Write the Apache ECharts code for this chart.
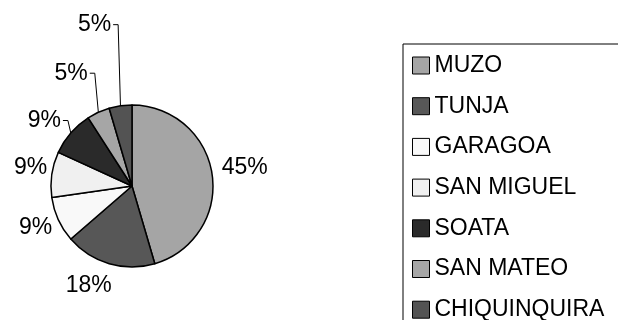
<!DOCTYPE html>
<html>
<head>
<meta charset="utf-8">
<script src="https://cdn.jsdelivr.net/npm/echarts@6/dist/echarts.min.js"></script>
<style>
html, body { margin: 0; padding: 0; background: #fff; }
#main { width: 618px; height: 320px; }
</style>
</head>
<body>
<div id="main"></div>
<script>
var names = ['MUZO', 'TUNJA', 'GARAGOA', 'SAN MIGUEL', 'SOATA', 'SAN MATEO', 'CHIQUINQUIRA'];
var counts = [10, 4, 2, 2, 2, 1, 1];
var colors = ['#a5a5a5', '#575757', '#f9f9f9', '#f0f0f0', '#2a2a2a', '#a6a6a6', '#535353'];

// label placement: [length, length2, show leader line]
var labelPos = [
	[49, -44, false],
	[23, -14, false],
	[20, -17, false],
	[45, -45, false],
	[19, 5, true],
	[43, 5, true],
	[82, 5, true]
];

var font = "'Liberation Sans', Arial, sans-serif";

var datas = [];
for (var i = 0; i < names.length; i++) {
	datas.push({
		name: names[i],
		value: counts[i],
		itemStyle: {color: colors[i]},
		labelLine: {
			show: labelPos[i][2],
			length: labelPos[i][0],
			length2: labelPos[i][1]
		}
	});
}

var chart = echarts.init(document.getElementById('main'));
chart.setOption({
	backgroundColor: '#fff',
	animation: false,
	legend: {
		orient: 'vertical',
		left: 403,
		top: 44,
		width: 400,
		height: 600,
		padding: [10, 60, 60, 9],
		itemGap: 17.7,
		itemWidth: 17,
		itemHeight: 17,
		icon: 'rect',
		borderColor: '#000',
		borderWidth: 1,
		itemStyle: {borderColor: '#000', borderWidth: 1},
		textStyle: {fontSize: 23, color: '#000', fontFamily: font},
		data: names
	},
	series: [{
		type: 'pie',
		center: [132, 186],
		radius: 81,
		startAngle: 90,
		clockwise: true,
		percentPrecision: 0,
		avoidLabelOverlap: false,
		itemStyle: {borderColor: '#000', borderWidth: 1.5},
		label: {
			show: true,
			formatter: '{d}%',
			fontSize: 23,
			color: '#000',
			fontFamily: font
		},
		labelLine: {lineStyle: {color: '#000', width: 1}},
		labelLayout: function (p) {
			var pts = p.labelLinePoints;
			if (!pts || !labelPos[p.dataIndex][2]) return {};
			// bend the first segment upward like the original leaders
			var start = pts[0], turn = pts[1];
			var cornerX = start[0] + (turn[0] - start[0]) * 0.2;
			var endX = cornerX - Math.abs(pts[2][0] - turn[0]);
			return {
				x: endX - 2,
				y: turn[1],
				align: 'right',
				verticalAlign: 'middle',
				labelLinePoints: [start, [cornerX, turn[1]], [endX, turn[1]]]
			};
		},
		data: datas
	}]
});
</script>
</body>
</html>
